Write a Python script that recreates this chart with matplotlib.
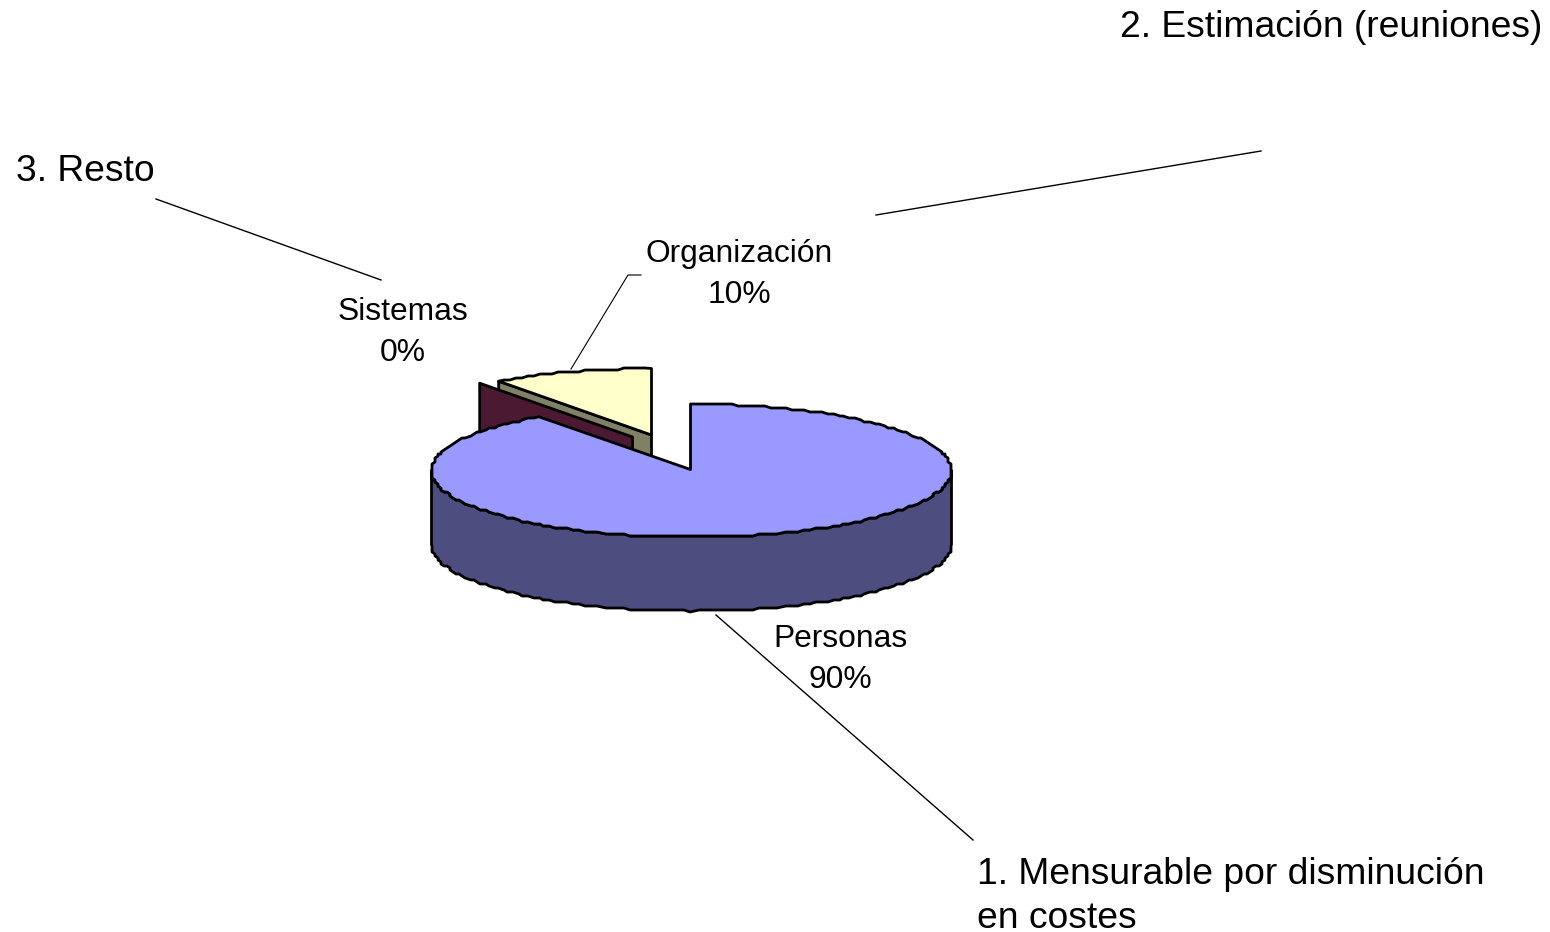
import numpy as np
import matplotlib
matplotlib.use("Agg")
import matplotlib.pyplot as plt
from matplotlib.patches import Polygon

categories = ["Personas", "Sistemas", "Organización"]
values = [90, 0, 10]
top_colors = ["#9999FF", "#993366", "#FFFFCC"]
side_colors = ["#4D4D80", "#4C1933", "#808066"]
offsets = [(0, 0), (-59, -33.5), (-40, -35.5)]
label_pos = [(840, 647), (403, 320), (739, 262)]
notes = ["1. Mensurable por disminución\nen costes", "3. Resto", "2. Estimación (reuniones)"]
note_pos = [(977, 884), (16, 181), (1120, 37)]
note_lines = [((716, 615), (973, 840)), ((156, 199), (381, 280)), ((876, 215), (1261, 151))]
leader_x = [571, 628, 641]
leader_y = [369, 275, 275]

CX, CY, RX, RY, DEPTH = 691.5, 470.5, 260, 66.5, 74
EDGE = "black"
LW = 2.0

plt.rcParams["font.family"] = ["Liberation Sans", "DejaVu Sans"]
fig = plt.figure(figsize=(15.5, 9.32), dpi=100)
ax = fig.add_axes([0, 0, 1, 1])
ax.set_xlim(0, 1550)
ax.set_ylim(932, 0)
ax.axis("off")


def rim(t0, t1, dx=0, dy=0, drop=0):
    n = max(2, int(abs(t1 - t0) / 1.5) + 1)
    t = np.radians(np.linspace(t0, t1, n))
    x = CX + dx + RX * np.sin(t)
    y = CY + dy + drop - RY * np.cos(t)
    y[1:-1] = np.round(y[1:-1] / 2.0) * 2.0
    x[1:-1] = np.round(x[1:-1] / 3.0) * 3.0
    return np.column_stack([x, y])


def poly(pts, fc, z):
    ax.add_patch(Polygon(pts, closed=True, facecolor=fc, edgecolor=EDGE,
                         linewidth=LW, joinstyle="round", zorder=z))


total = sum(values)
edges = np.cumsum([0] + values) / total * 360

# Organización: extruded cut face, then top
t0, t1 = edges[2], edges[3]
dx, dy = offsets[2]
apex = np.array([CX + dx, CY + dy])
corner = rim(t0, t0, dx, dy)[0]
poly([corner, apex, apex + [0, DEPTH], corner + [0, DEPTH]], side_colors[2], 2)
poly(np.vstack([[apex], rim(t0, t1, dx, dy)]), top_colors[2], 3)

# Sistemas: zero-width slice, only the extruded cut face shows
t0 = edges[1]
dx, dy = offsets[1]
apex = np.array([CX + dx, CY + dy])
corner = rim(t0, t0, dx, dy)[0]
poly([corner, apex, apex + [0, DEPTH], corner + [0, DEPTH]], side_colors[1], 4)

# Personas: outer wall, then top
t0, t1 = edges[0], edges[1]
upper = rim(90, 270)
lower = rim(90, 270, drop=DEPTH)
poly(np.vstack([upper, lower[::-1]]), side_colors[0], 5)
top_rim = rim(t0, t1)
top_rim[0, 0] = CX - 1
poly(np.vstack([[[CX - 1, CY - 1]], top_rim]), top_colors[0], 6)

# Data labels
for cat, val, (x, y) in zip(categories, values, label_pos):
    ax.text(x, y, cat, fontsize=22.9, ha="center", va="baseline", color="black", zorder=8)
    ax.text(x, y + 41, f"{val}%", fontsize=22.9, ha="center", va="baseline", color="black", zorder=8)

# Annotations
for note, (x, y) in zip(notes, note_pos):
    for i, line in enumerate(note.split("\n")):
        ax.text(x, y + 44 * i, line, fontsize=26.8, ha="left", va="baseline", color="black", zorder=8)
for (a, b) in note_lines:
    ax.plot([a[0], b[0]], [a[1], b[1]], color="black", lw=1.0, zorder=7)
ax.plot(leader_x, leader_y, color="black", lw=0.8, zorder=7)

fig.savefig("out.png", dpi=100)
